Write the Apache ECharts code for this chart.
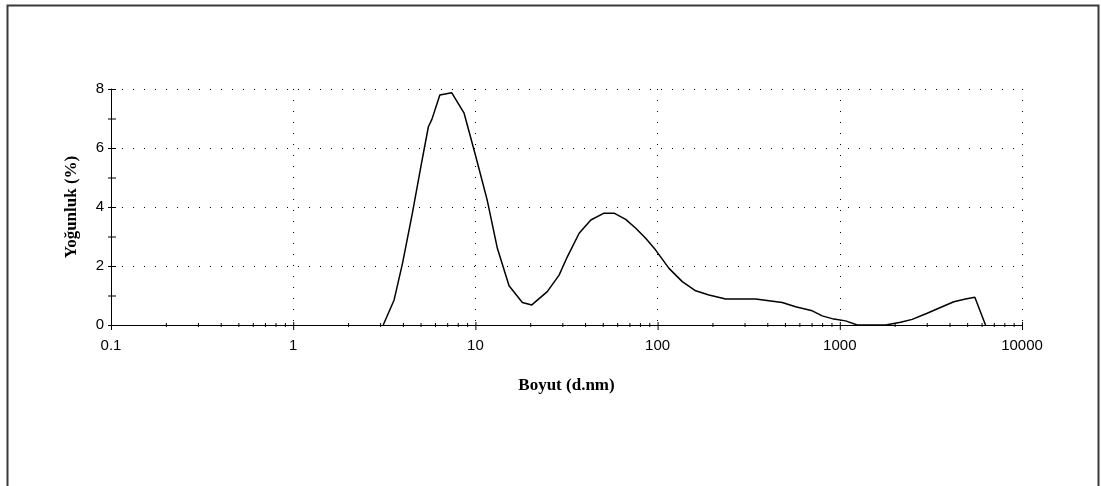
<!DOCTYPE html>
<html>
<head>
<meta charset="utf-8">
<script src="https://cdn.jsdelivr.net/npm/echarts@6/dist/echarts.min.js"></script>
<style>
  html, body { margin: 0; padding: 0; background: #fff; }
  #chart { width: 1101px; height: 486px; }
</style>
</head>
<body>
<div id="chart"></div>
<script>
// Particle size distribution by intensity
const sizes = [
  3.12, 3.58, 3.98, 4.51, 5.02, 5.52, 5.77, 6.38, 7.42, 8.67,
  10.05, 11.6, 13.2, 15.3, 18.1, 20.4, 24.8, 28.8, 32.0, 37.1,
  43.0, 50.8, 57.7, 66.8, 75.9, 86.0, 97.6, 115.5, 136.6, 161.8,
  191.4, 236.4, 345.3, 483, 572, 706, 801, 928, 1076, 1246,
  1784, 2156, 2496, 3017, 3646, 4225, 4899, 5510, 6306
];
const intensity = [
  0, 0.85, 2.09, 3.79, 5.37, 6.72, 6.97, 7.80, 7.87, 7.18,
  5.71, 4.24, 2.60, 1.33, 0.76, 0.68, 1.13, 1.69, 2.32, 3.11,
  3.56, 3.79, 3.79, 3.58, 3.28, 2.94, 2.54, 1.92, 1.47, 1.16,
  1.02, 0.88, 0.88, 0.76, 0.62, 0.48, 0.31, 0.20, 0.14, 0,
  0, 0.09, 0.19, 0.40, 0.62, 0.79, 0.88, 0.94, 0
];

const xTickLabels = ['0.1', '1', '10', '100', '1000', '10000'];
const xDecades = [0.1, 1, 10, 100, 1000];
const xMinorSteps = [2, 3, 4, 5, 6, 7, 8, 9];
const yTickValues = [0, 1, 2, 3, 4, 5, 6, 7, 8];
const xTitle = 'Boyut (d.nm)';
const yTitle = 'Yoğunluk (%)';

// tick marks that straddle the axis lines
const xMajorTicks = xTickLabels.map(Number);
const xMinorTicks = [];
xDecades.forEach(d => xMinorSteps.forEach(s => xMinorTicks.push(+(d * s).toPrecision(3))));

const tickItems = [];
xMajorTicks.forEach(v => tickItems.push(['x', v, 3, 5]));
xMinorTicks.forEach(v => tickItems.push(['x', v, 2, 2]));
yTickValues.forEach(v => tickItems.push(['y', v, 3, 5]));

const chart = echarts.init(document.getElementById('chart'), null, { renderer: 'canvas' });

const option = {
  backgroundColor: '#fff',
  animation: false,
  grid: { left: 111, right: 79, top: 89, bottom: 161, containLabel: false },
  xAxis: {
    type: 'log',
    logBase: 10,
    min: 0.1,
    max: 10000,
    name: xTitle,
    nameLocation: 'middle',
    nameGap: 52,
    nameTextStyle: { fontFamily: 'Liberation Serif', fontWeight: 'bold', fontSize: 17, color: '#000' },
    axisLine: { show: true, lineStyle: { color: '#000', width: 1 } },
    axisTick: { show: false },
    axisLabel: {
      margin: 13,
      fontFamily: 'Liberation Sans',
      fontSize: 15,
      color: '#000',
      formatter: v => xTickLabels[Math.round(Math.log10(v)) + 1] || ''
    },
    splitLine: { show: true, lineStyle: { color: '#000', type: [1, 10], width: 1 } }
  },
  yAxis: {
    type: 'value',
    min: 0,
    max: 8,
    interval: 2,
    name: yTitle,
    nameLocation: 'middle',
    nameGap: 31,
    nameTextStyle: { fontFamily: 'Liberation Serif', fontWeight: 'bold', fontSize: 17, color: '#000' },
    axisLine: { show: true, lineStyle: { color: '#000', width: 1 } },
    axisTick: { show: false },
    axisLabel: { margin: 7, fontFamily: 'Liberation Sans', fontSize: 15, color: '#000' },
    splitLine: { show: true, lineStyle: { color: '#000', type: [1, 10], width: 1 } }
  },
  series: [
    {
      type: 'custom',
      coordinateSystem: 'cartesian2d',
      clip: false,
      silent: true,
      z: 3,
      data: tickItems.map(t => [t[0] === 'x' ? t[1] : 0.1, t[0] === 'y' ? t[1] : 0, t[2], t[3], t[0] === 'x' ? 0 : 1]),
      renderItem: (params, api) => {
        const p = api.coord([api.value(0), api.value(1)]);
        const a = api.value(2), b = api.value(3);
        const isY = api.value(4) === 1;
        const shape = isY
          ? { x1: p[0] - a, y1: p[1] + 0.5, x2: p[0] + b, y2: p[1] + 0.5 }
          : { x1: p[0] + 0.5, y1: p[1] - a, x2: p[0] + 0.5, y2: p[1] + b };
        return { type: 'line', shape, style: { stroke: '#000', lineWidth: 1 } };
      }
    },
    {
      type: 'line',
      data: sizes.map((s, i) => [s, intensity[i]]),
      showSymbol: false,
      smooth: false,
      z: 4,
      lineStyle: { color: '#000', width: 1.5 }
    }
  ],
  graphic: [
    {
      type: 'polyline',
      silent: true,
      shape: { points: [[7.5, 490], [7.5, 5.5], [1098.5, 5.5], [1098.5, 490]] },
      style: { stroke: '#3a3a3a', lineWidth: 2, fill: null }
    }
  ]
};

chart.setOption(option);
</script>
</body>
</html>
